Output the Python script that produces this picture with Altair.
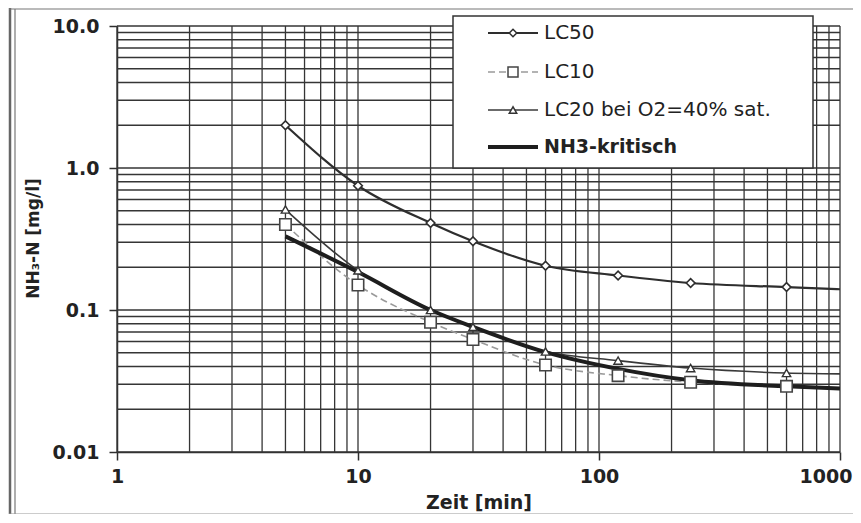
import altair as alt
import pandas as pd

# ---------------- data ----------------
times = [5, 10, 20, 30, 60, 120, 240, 600]
lc50 = [2.0, 0.75, 0.41, 0.305, 0.205, 0.175, 0.155, 0.145]
lc10 = [0.40, 0.15, 0.082, 0.062, 0.041, 0.0345, 0.031, 0.029]
lc20 = [0.51, 0.19, 0.10, 0.076, 0.051, 0.044, 0.039, 0.036]
line_end_time = 1000
lc50_end = 0.14
lc20_end = 0.0355
nh3_times = [5, 10, 20, 30, 60, 120, 240, 600, 1000]
nh3_krit = [0.33, 0.185, 0.10, 0.076, 0.0505, 0.0385, 0.032, 0.029, 0.028]

x_ticks = [1, 10, 100, 1000]
x_tick_labels = ["1", "10", "100", "1000"]
y_ticks = [0.01, 0.1, 1, 10]
y_tick_labels = ["0.01", "0.1", "1.0", "10.0"]
mantissas = [1, 2, 3, 4, 5, 6, 7, 8, 9]
x_decades = [1, 10, 100]
y_decades = [0.01, 0.1, 1]
legend_labels = ["LC50", "LC10", "LC20 bei O2=40% sat.", "NH3-kritisch"]

x_title = "Zeit [min]"
y_title = "NH\u2083-N [mg/l]"

# ---------------- styling ----------------
W, H = 723, 426
GRID = "#353535"
DARK = "#2e2e2e"
FONT = "DejaVu Sans"

grid_x_vals = [m * d for d in x_decades for m in mantissas] + [x_ticks[-1]]
grid_y_vals = [m * d for d in y_decades for m in mantissas] + [y_ticks[-1]]


def label_expr(vals, labs):
    expr = "''"
    for v, lab in zip(vals, labs):
        expr = f"abs(datum.value - {v}) < {v * 0.01} ? '{lab}' : ({expr})"
    return expr


last_x = x_ticks[-1]
x_axis = alt.Axis(
    values=x_ticks, labelExpr=label_expr(x_ticks, x_tick_labels), grid=False,
    title=x_title, labelFont=FONT, labelFontSize=19, labelFontWeight="bold",
    labelColor="#222", titleFont=FONT, titleFontSize=19, titleFontWeight="bold",
    titleColor="#222", tickSize=8, tickColor=DARK, tickWidth=1.5,
    domainColor=DARK, domainWidth=1.5, labelPadding=7,
    labelAlign={"condition": {"test": f"datum.value >= {last_x * 0.99}", "value": "right"},
                "value": "center"},
    labelOffset={"condition": {"test": f"datum.value >= {last_x * 0.99}", "value": 12},
                 "value": 0},
    titleBaseline="alphabetic", titleY=56, labelFlush=False, labelOverlap=False,
)
y_axis = alt.Axis(
    values=y_ticks, labelExpr=label_expr(y_ticks, y_tick_labels), grid=False,
    title=y_title, labelFont=FONT, labelFontSize=19, labelFontWeight="bold",
    labelColor="#222", titleFont=FONT, titleFontSize=17, titleFontWeight="bold",
    titleColor="#222", tickSize=8, tickColor=DARK, tickWidth=1.5,
    domainColor=DARK, domainWidth=1.5, labelPadding=10,
    titleAngle=270, titleBaseline="alphabetic", titleX=-79, titleY=212,
    titleAlign="center", labelFlush=False, labelOverlap=False,
)

xs = alt.Scale(type="log", domain=[x_ticks[0], x_ticks[-1]], nice=False)
ys = alt.Scale(type="log", domain=[y_ticks[0], y_ticks[-1]], nice=False)


def X(field="x"):
    return alt.X(f"{field}:Q", scale=xs, axis=x_axis)


def Y(field="y"):
    return alt.Y(f"{field}:Q", scale=ys, axis=y_axis)


grid_v = alt.Chart(pd.DataFrame({"x": grid_x_vals})).mark_rule(
    color=GRID, strokeWidth=1.3).encode(x=X())
grid_h = alt.Chart(pd.DataFrame({"y": grid_y_vals})).mark_rule(
    color=GRID, strokeWidth=1.3).encode(y=Y())

lc50_line_df = pd.DataFrame({"x": times + [line_end_time], "y": lc50 + [lc50_end]})
lc20_line_df = pd.DataFrame({"x": times + [line_end_time], "y": lc20 + [lc20_end]})
lc10_df = pd.DataFrame({"x": times, "y": lc10})
lc50_df = pd.DataFrame({"x": times, "y": lc50})
lc20_df = pd.DataFrame({"x": times, "y": lc20})
nh3_df = pd.DataFrame({"x": nh3_times, "y": nh3_krit})

lc10_line = alt.Chart(lc10_df).mark_line(
    color="#9a9a9a", strokeWidth=1.6, strokeDash=[7, 4], interpolate="monotone"
).encode(x=X(), y=Y())
lc20_line = alt.Chart(lc20_line_df).mark_line(
    color="#3a3a3a", strokeWidth=1.6, interpolate="monotone"
).encode(x=X(), y=Y())
lc50_line = alt.Chart(lc50_line_df).mark_line(
    color=DARK, strokeWidth=2.2, interpolate="monotone"
).encode(x=X(), y=Y())
nh3_line = alt.Chart(nh3_df).mark_line(
    color="#1e1e1e", strokeWidth=4, interpolate="monotone"
).encode(x=X(), y=Y())

lc10_pts = alt.Chart(lc10_df).mark_point(
    shape="square", size=130, filled=True, fill="white", stroke="#444",
    strokeWidth=1.6, opacity=1
).encode(x=X(), y=Y())
lc20_pts = alt.Chart(lc20_df).mark_point(
    shape="triangle-up", size=70, filled=True, fill="white", stroke="#333",
    strokeWidth=1.4, opacity=1
).encode(x=X(), y=Y())
lc50_pts = alt.Chart(lc50_df).mark_point(
    shape="diamond", size=75, filled=True, fill="white", stroke=DARK,
    strokeWidth=1.6, opacity=1
).encode(x=X(), y=Y())

# ---------------- legend (drawn as decoration) ----------------
one = pd.DataFrame({"a": [0]})
legend_box = alt.Chart(one).mark_rect(
    fill="white", stroke="#333", strokeWidth=1.5
).encode(x=alt.value(336), x2=alt.value(696), y=alt.value(-10), y2=alt.value(142))

leg_y = [7, 46, 84, 121]
leg_styles = [
    dict(color=DARK, strokeWidth=2.2),
    dict(color="#9a9a9a", strokeWidth=1.6, strokeDash=[7, 4]),
    dict(color="#3a3a3a", strokeWidth=1.6),
    dict(color="#1e1e1e", strokeWidth=4),
]
leg_marks = [
    dict(shape="diamond", size=55, stroke=DARK),
    dict(shape="square", size=100, stroke="#444"),
    dict(shape="triangle-up", size=55, stroke="#333"),
    None,
]
legend_layers = [legend_box]
for i, lab in enumerate(legend_labels):
    legend_layers.append(
        alt.Chart(one).mark_rule(**leg_styles[i]).encode(
            x=alt.value(371), x2=alt.value(421), y=alt.value(leg_y[i]))
    )
    if leg_marks[i] is not None:
        m = leg_marks[i]
        legend_layers.append(
            alt.Chart(one).mark_point(
                shape=m["shape"], size=m["size"], filled=True, fill="white",
                stroke=m["stroke"], strokeWidth=1.5, opacity=1
            ).encode(x=alt.value(396), y=alt.value(leg_y[i]))
        )
    bold = i == 3
    legend_layers.append(
        alt.Chart(one).mark_text(
            text=lab, align="left", baseline="middle", font=FONT,
            fontSize=19 if bold else 20, fontWeight="bold" if bold else "normal",
            color="#222"
        ).encode(x=alt.value(427), y=alt.value(leg_y[i]))
    )

# ---------------- outer frame (decoration) ----------------
frame = [
    alt.Chart(one).mark_rule(color="#666", strokeWidth=2.5).encode(
        x=alt.value(-107), y=alt.value(-18), y2=alt.value(489)),
    alt.Chart(one).mark_rule(color="#777", strokeWidth=1.2).encode(
        x=alt.value(-102), y=alt.value(-17), y2=alt.value(489)),
    alt.Chart(one).mark_rule(color="#777", strokeWidth=1.2).encode(
        x=alt.value(-108), x2=alt.value(740), y=alt.value(-17)),
    alt.Chart(one).mark_rule(color="#999", strokeWidth=1).encode(
        x=alt.value(-108), x2=alt.value(740), y=alt.value(488)),
]

chart = alt.layer(
    grid_v, grid_h, *frame, *legend_layers,
    lc10_line, lc20_line, lc50_line, nh3_line,
    lc10_pts, lc20_pts, lc50_pts,
).properties(
    width=W, height=H,
    autosize=alt.AutoSizeParams(type="none"),
    padding={"left": 109, "top": 18, "right": 13, "bottom": 62},
    background="white",
).configure_view(stroke=None)

chart.save("out.html", embed_options={"renderer": "svg", "actions": False})
